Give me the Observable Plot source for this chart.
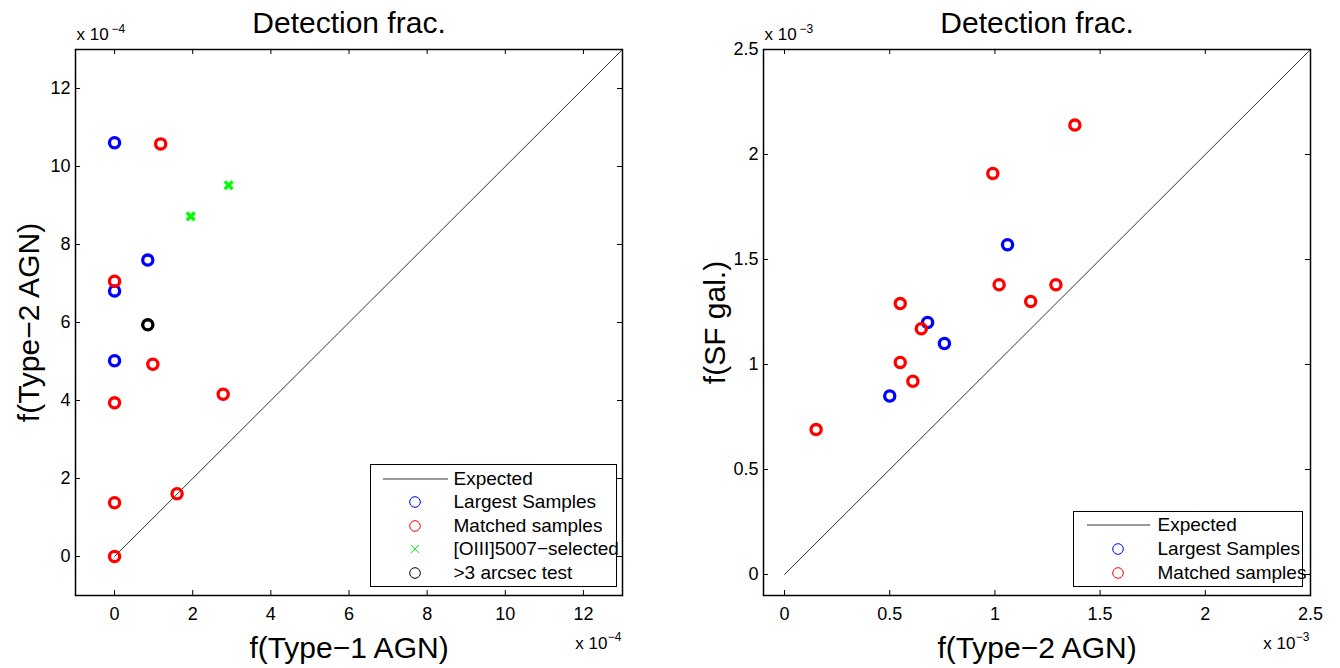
<!DOCTYPE html>
<html><head><meta charset="utf-8">
<script src="https://cdn.jsdelivr.net/npm/d3@7"></script>
<script src="https://cdn.jsdelivr.net/npm/@observablehq/plot@0.6"></script>
<style>
body{margin:0;background:#fff;}
#wrap{position:relative;width:1340px;height:668px;overflow:hidden;font-family:"Liberation Sans",Arial,sans-serif;}
.panel{position:absolute;top:0;}
.legend{position:absolute;background:#fff;border:1.5px solid #000;box-sizing:border-box;}
.legend svg{position:absolute;left:0;overflow:visible;}
.legend span{position:absolute;white-space:nowrap;font-size:19px;height:24px;line-height:24px;color:#000;}
</style></head><body><div id="wrap"></div>
<script>
// ---------- Data (left panel, units of 1e-4) ----------
const leftTitle = "Detection frac.";
const leftXLabel = "f(Type\u22121 AGN)";
const leftYLabel = "f(Type\u22122 AGN)";
const leftExp = "\u22124";
const leftTicks = [0, 2, 4, 6, 8, 10, 12];
const leftDomain = [-1, 13];
const leftExpected = [0, 13];
const blueLx = [0, 0.85, 0, 0];
const blueLy = [10.61, 7.60, 6.81, 5.02];
const redLx = [1.18, 0, 0.98, 0, 2.78, 1.60, 0, 0];
const redLy = [10.58, 7.06, 4.93, 3.94, 4.16, 1.61, 1.38, 0];
const greenLx = [1.95, 2.92];
const greenLy = [8.72, 9.52];
const blackLx = [0.85];
const blackLy = [5.94];
const leftLegendLabels = ["Expected", "Largest Samples", "Matched samples", "[OIII]5007\u2212selected", ">3 arcsec test"];

// ---------- Data (right panel, units of 1e-3) ----------
const rightTitle = "Detection frac.";
const rightXLabel = "f(Type\u22122 AGN)";
const rightYLabel = "f(SF gal.)";
const rightExp = "\u22123";
const rightTicks = [0, 0.5, 1, 1.5, 2, 2.5];
const rightDomain = [-0.1, 2.5];
const rightExpected = [0, 2.5];
const blueRx = [0.50, 0.68, 0.76, 1.06];
const blueRy = [0.85, 1.20, 1.10, 1.57];
const redRx = [0.15, 0.55, 0.61, 0.65, 0.55, 1.02, 1.17, 1.29, 0.99, 1.38];
const redRy = [0.69, 1.01, 0.92, 1.17, 1.29, 1.38, 1.30, 1.38, 1.91, 2.14];
const rightLegendLabels = ["Expected", "Largest Samples", "Matched samples"];

const BLUE = "#0000ff", RED = "#ff0000", GREEN = "#00ff00", BLACK = "#000000";
const zip = (xs, ys) => xs.map((x, i) => ({x, y: ys[i]}));

function panel({margin, domain, ticks, title, xlabel, ylabel, exp, expected, series, ylabelDx}) {
  const W = 670, H = 668;
  const FW = W - margin.left - margin.right;
  const FH = H - margin.top - margin.bottom;
  const line = expected.map(v => ({x: v, y: v}));
  const marks = [
    Plot.line(line, {x: "x", y: "y", stroke: "#333", strokeWidth: 1}),
    ...series.map(s => s.symbol === "times"
      ? Plot.dot(s.data, {x: "x", y: "y", symbol: "times", r: 3.6, stroke: s.color, strokeWidth: 3.4})
      : Plot.dot(s.data, {x: "x", y: "y", r: 5.1, stroke: s.color, strokeWidth: 3.3, fill: "none"})),
    // inward ticks on all four sides
    Plot.ruleX(ticks, {x: d => d, insetTop: FH - 5, stroke: "#000"}),
    Plot.ruleX(ticks, {x: d => d, insetBottom: FH - 5, stroke: "#000"}),
    Plot.ruleY(ticks, {y: d => d, insetRight: FW - 5, stroke: "#000"}),
    Plot.ruleY(ticks, {y: d => d, insetLeft: FW - 5, stroke: "#000"}),
    Plot.frame({stroke: "#000", strokeWidth: 1.5}),
    Plot.axisX({ticks, tickSize: 0, tickPadding: 12, label: null, tickFormat: d => String(d)}),
    Plot.axisY({ticks, tickSize: 0, tickPadding: 5, label: null, tickFormat: d => String(d)}),
    Plot.text([title], {text: d => d, frameAnchor: "top", lineAnchor: "bottom", dy: -16.5, fontSize: 30}),
    Plot.text([xlabel], {text: d => d, frameAnchor: "bottom", lineAnchor: "bottom", dy: 62, fontSize: 30}),
    Plot.text([ylabel], {text: d => d, frameAnchor: "left", textAnchor: "middle", lineAnchor: "middle", rotate: -90, dx: ylabelDx, fontSize: 30}),
    Plot.text(["x 10"], {text: d => d, frameAnchor: "top-left", textAnchor: "start", lineAnchor: "bottom", dx: 1, dy: -10, fontSize: 17}),
    Plot.text([exp], {text: d => d, frameAnchor: "top-left", textAnchor: "start", lineAnchor: "bottom", dx: 36, dy: -17, fontSize: 12}),
    Plot.text(["x 10"], {text: d => d, frameAnchor: "bottom-right", textAnchor: "end", lineAnchor: "bottom", dx: -15, dy: 53, fontSize: 17}),
    Plot.text([exp], {text: d => d, frameAnchor: "bottom-right", textAnchor: "end", lineAnchor: "bottom", dx: -1, dy: 45, fontSize: 12})
  ];
  return Plot.plot({
    width: W, height: H,
    marginTop: margin.top, marginBottom: margin.bottom, marginLeft: margin.left, marginRight: margin.right,
    x: {domain, type: "linear"},
    y: {domain, type: "linear"},
    style: {fontFamily: '"Liberation Sans", Arial, sans-serif', fontSize: "18px", background: "transparent", overflow: "visible", color: "#000"},
    marks
  });
}

function legend(wrap, box, rows) {
  const div = document.createElement("div");
  div.className = "legend";
  Object.assign(div.style, {left: box.left + "px", top: box.top + "px", width: box.width + "px", height: box.height + "px"});
  const ns = "http://www.w3.org/2000/svg";
  rows.forEach(r => {
    const svg = document.createElementNS(ns, "svg");
    svg.setAttribute("width", 90); svg.setAttribute("height", 24);
    svg.style.top = (r.cy - 12 - 1.5) + "px";
    svg.style.left = "-1.5px";
    let el;
    if (r.kind === "line") {
      el = document.createElementNS(ns, "line");
      el.setAttribute("x1", box.lineX1); el.setAttribute("x2", box.lineX2);
      el.setAttribute("y1", 12); el.setAttribute("y2", 12);
      el.setAttribute("stroke", "#333"); el.setAttribute("stroke-width", 1);
    } else if (r.kind === "circle") {
      el = document.createElementNS(ns, "circle");
      el.setAttribute("cx", box.markerX); el.setAttribute("cy", 12); el.setAttribute("r", 5.3);
      el.setAttribute("fill", "none"); el.setAttribute("stroke", r.color); el.setAttribute("stroke-width", 1);
    } else {
      el = document.createElementNS(ns, "path");
      const m = box.markerX;
      el.setAttribute("d", `M${m-4},8L${m+4},16M${m-4},16L${m+4},8`);
      el.setAttribute("fill", "none"); el.setAttribute("stroke", r.color); el.setAttribute("stroke-width", 1);
    }
    svg.appendChild(el);
    div.appendChild(svg);
    const sp = document.createElement("span");
    sp.textContent = r.label;
    sp.style.left = (box.textX - 1.5) + "px";
    sp.style.top = (r.cy - 12 - 1.5) + "px";
    div.appendChild(sp);
  });
  wrap.appendChild(div);
}

const wrap = document.getElementById("wrap");

const left = panel({
  margin: {top: 49, bottom: 73, left: 75, right: 48},
  domain: leftDomain, ticks: leftTicks, title: leftTitle, xlabel: leftXLabel, ylabel: leftYLabel,
  exp: leftExp, expected: leftExpected, ylabelDx: -46,
  series: [
    {data: zip(blueLx, blueLy), color: BLUE},
    {data: zip(redLx, redLy), color: RED},
    {data: zip(greenLx, greenLy), color: GREEN, symbol: "times"},
    {data: zip(blackLx, blackLy), color: BLACK}
  ]
});
left.classList.add("panel"); left.style.left = "0px";
wrap.appendChild(left);

const right = panel({
  margin: {top: 49, bottom: 73, left: 93, right: 30},
  domain: rightDomain, ticks: rightTicks, title: rightTitle, xlabel: rightXLabel, ylabel: rightYLabel,
  exp: rightExp, expected: rightExpected, ylabelDx: -48,
  series: [
    {data: zip(blueRx, blueRy), color: BLUE},
    {data: zip(redRx, redRy), color: RED}
  ]
});
right.classList.add("panel"); right.style.left = "670px";
wrap.appendChild(right);

legend(wrap, {left: 370, top: 464, width: 247, height: 123, lineX1: 13, lineX2: 78, markerX: 45, textX: 84}, [
  {cy: 15, kind: "line", label: leftLegendLabels[0]},
  {cy: 38.5, kind: "circle", color: BLUE, label: leftLegendLabels[1]},
  {cy: 62, kind: "circle", color: RED, label: leftLegendLabels[2]},
  {cy: 85, kind: "x", color: GREEN, label: leftLegendLabels[3]},
  {cy: 109, kind: "circle", color: BLACK, label: leftLegendLabels[4]}
]);
legend(wrap, {left: 1073, top: 511, width: 230, height: 76, lineX1: 14, lineX2: 77, markerX: 45, textX: 85}, [
  {cy: 14.5, kind: "line", label: rightLegendLabels[0]},
  {cy: 38.5, kind: "circle", color: BLUE, label: rightLegendLabels[1]},
  {cy: 62, kind: "circle", color: RED, label: rightLegendLabels[2]}
]);
</script></body></html>
